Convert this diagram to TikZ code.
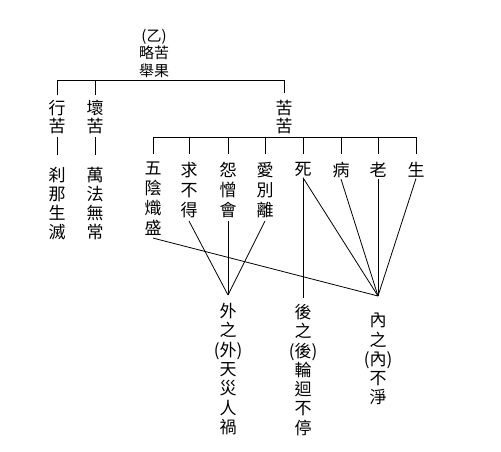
\documentclass[tikz,border=0pt]{standalone}
\usepackage{fontspec}
\setmainfont{Noto Sans CJK TC}
\begin{document}
\begin{tikzpicture}[x=1pt,y=-1pt,
  col/.style={inner sep=0pt, align=center, anchor=north, font=\fontsize{17}{20}\selectfont},
  ln/.style={line width=0.8pt, line cap=butt}]
\useasboundingbox[fill=white] (0,0) rectangle (501,451);
% nodes
\node[col, font=\fontsize{15}{17.5}\selectfont] (root) at (154,29) {(乙)\\略苦\\舉果};
\node[col, font=\fontsize{17}{18}\selectfont] (xing) at (57,100) {行\\苦};
\node[col, font=\fontsize{17}{18}\selectfont] (huai) at (95,100) {壞\\苦};
\node[col, font=\fontsize{17}{18}\selectfont] (kuku) at (284,100) {苦\\苦};
\node[col, font=\fontsize{17}{19}\selectfont] (chana) at (57,167) {刹\\那\\生\\滅};
\node[col, font=\fontsize{17}{19}\selectfont] (wanfa) at (95,167) {萬\\法\\無\\常};
\node[col] (wuyin) at (153,162) {五\\陰\\熾\\盛};
\node[col] (qiu) at (189,162) {求\\不\\得};
\node[col] (yuan) at (228,162) {怨\\憎\\會};
\node[col] (ai) at (265,162) {愛\\別\\離};
\node[col] (si) at (303,162) {死};
\node[col] (bing) at (341,162) {病};
\node[col] (lao) at (378,162) {老};
\node[col] (sheng) at (416,162) {生};
\node[col, font=\fontsize{17}{19.3}\selectfont] (wai) at (228,303) {外\\之\\(外)\\天\\災\\人\\禍};
\node[col, font=\fontsize{17}{19.3}\selectfont] (hou) at (303,304) {後\\之\\(後)\\輪\\迴\\不\\停};
\node[col, font=\fontsize{17}{19.3}\selectfont] (nei) at (378,313) {內\\之\\(內)\\不\\淨};
% coordinates
\coordinate (bar1) at (0,80);
\coordinate (bar2) at (0,137);
\coordinate (A) at (228,295);
\coordinate (B) at (378,296);
% top tree
\draw[ln] ([yshift=5pt]xing.north) -- (xing.north |- bar1) -- (kuku.north |- bar1) -- ([yshift=7pt]kuku.north);
\draw[ln] ([yshift=5pt]huai.north) -- (huai.north |- bar1);
\draw[ln] ([yshift=-3pt]xing.south) -- ([yshift=12pt]chana.north);
\draw[ln] ([yshift=-3pt]huai.south) -- ([yshift=12pt]wanfa.north);
% second bar
\draw[ln] (wuyin.north |- bar2) -- (sheng.north |- bar2);
\foreach \n in {wuyin,qiu,yuan,ai,si,bing,lao,sheng}
  \draw[ln] (\n.north |- bar2) -- ([yshift=8pt]\n.north);
% lower connectors
\draw[ln] ([yshift=-3pt]qiu.south) -- (A);
\draw[ln] ([yshift=-3pt]yuan.south) -- (A);
\draw[ln] ([yshift=-3pt]ai.south) -- (A);
\draw[ln] (A) -- ([yshift=8pt]wai.north);
\draw[ln] ([yshift=-2pt]wuyin.south) -- (B);
\draw[ln] ([yshift=-1pt]si.south) -- ([yshift=6pt]hou.north);
\draw[ln] ([yshift=-1pt]si.south) -- (B);
\draw[ln] ([yshift=-1pt]bing.south) -- (B);
\draw[ln] ([yshift=-1pt]lao.south) -- (B);
\draw[ln] ([yshift=-1pt]sheng.south) -- (B);
\end{tikzpicture}
\end{document}
